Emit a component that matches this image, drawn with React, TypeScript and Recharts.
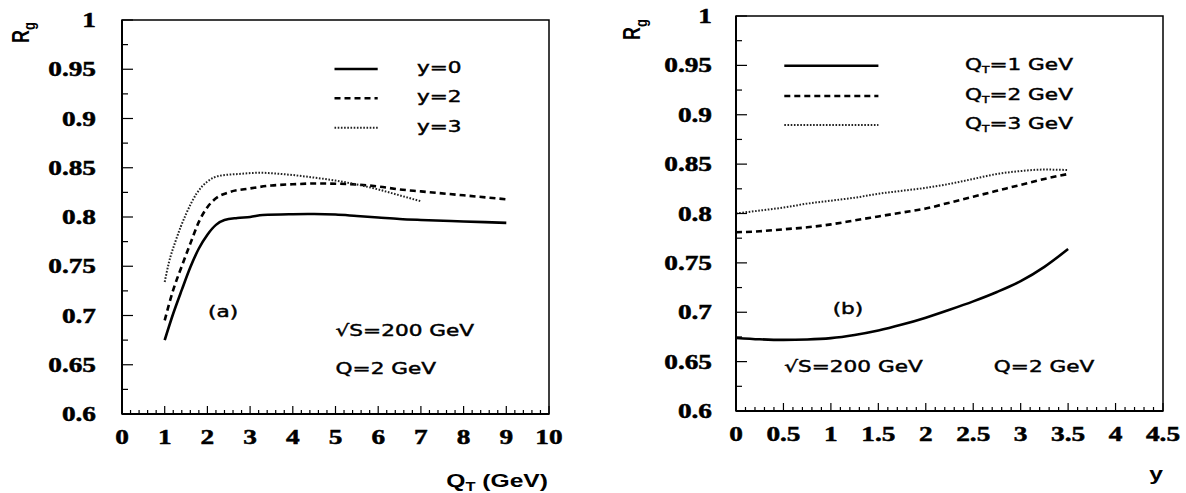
import React from 'react';
import { LineChart, Line, XAxis, YAxis, ReferenceArea } from 'recharts';

// ---------- Panel (a): R_g versus Q_T ----------
const qtY0 = [1, 1.2, 1.4, 1.6, 1.8, 2, 2.2, 2.4, 2.7, 3, 3.3, 4, 4.5, 5, 5.5, 6, 6.5, 7, 8, 9];
const rgY0 = [0.675, 0.702, 0.726, 0.749, 0.768, 0.782, 0.792, 0.797, 0.799, 0.8, 0.802, 0.8028, 0.803, 0.8025, 0.801, 0.7995, 0.798, 0.797, 0.7955, 0.794];
const qtY2 = [1, 1.2, 1.4, 1.6, 1.8, 2, 2.2, 2.5, 3, 3.5, 4, 4.5, 5, 5.5, 6, 6.5, 7, 8, 9];
const rgY2 = [0.695, 0.726, 0.75, 0.773, 0.795, 0.81, 0.819, 0.825, 0.829, 0.832, 0.8332, 0.834, 0.8338, 0.833, 0.831, 0.828, 0.826, 0.822, 0.818];
const qtY3 = [1, 1.1, 1.25, 1.5, 1.75, 2, 2.3, 2.75, 3.25, 3.5, 4, 4.5, 5, 5.5, 6, 6.5, 7];
const rgY3 = [0.734, 0.754, 0.775, 0.803, 0.824, 0.836, 0.842, 0.8437, 0.845, 0.8444, 0.8426, 0.84, 0.837, 0.833, 0.828, 0.822, 0.816];
const xTickLabelsA = ['0', '1', '2', '3', '4', '5', '6', '7', '8', '9', '10'];
const legendA = ['y=0', 'y=2', 'y=3'];

// ---------- Panel (b): R_g versus y ----------
const yRap = [0, 0.25, 0.5, 0.75, 1, 1.25, 1.5, 1.75, 2, 2.25, 2.5, 2.75, 3, 3.25, 3.5];
const rgQT1 = [0.674, 0.6726, 0.672, 0.6724, 0.6738, 0.677, 0.6815, 0.6875, 0.6945, 0.7025, 0.711, 0.7205, 0.7315, 0.746, 0.764];
const rgQT2 = [0.781, 0.782, 0.784, 0.786, 0.789, 0.793, 0.797, 0.801, 0.805, 0.811, 0.817, 0.823, 0.829, 0.835, 0.84];
const rgQT3 = [0.8, 0.803, 0.806, 0.81, 0.813, 0.816, 0.82, 0.823, 0.826, 0.83, 0.835, 0.84, 0.843, 0.8445, 0.844];
const xTickLabelsB = ['0', '0.5', '1', '1.5', '2', '2.5', '3', '3.5', '4', '4.5'];
const legendBqt = ['1', '2', '3'];

const yTickLabels = ['0.6', '0.65', '0.7', '0.75', '0.8', '0.85', '0.9', '0.95', '1'];

// ---------- helpers ----------
const SERIF = '"Liberation Serif", "DejaVu Serif", serif';
const SANS_B = '"Liberation Sans", Arial, sans-serif';
const ANN = '"DejaVu Sans", sans-serif';
const SX = 1.3;

const pts = (xs: number[], ys: number[]) => xs.map((x, i) => ({ x, v: ys[i] }));
const steps = (lo: number, hi: number, step: number) => {
  const n = Math.round((hi - lo) / step);
  return Array.from({ length: n + 1 }, (_, i) => +(lo + i * step).toFixed(4));
};

const seriesStyle = [
  { dash: undefined as string | undefined, w: 2.6, c: '#000' },
  { dash: '6 4', w: 2.6, c: '#000' },
  { dash: '1.6 1.6', w: 2, c: '#222' },
];

const tickTextStyle: React.CSSProperties = {
  fontFamily: SERIF,
  fontWeight: 700,
  fontSize: 21,
};

function makeXTick(labels: string[], every: number) {
  return (props: any) => {
    const { x, y, index } = props;
    const major = index % every === 0;
    return (
      <g>
        <line x1={x} x2={x} y1={y} y2={y - (major ? 8 : 4)} stroke="#000" strokeWidth={1.2} />
        {major && (
          <text
            transform={`translate(${x},${y + 30}) scale(${SX},1)`}
            textAnchor="middle"
            style={tickTextStyle}
            fill="#000"
            stroke="#000"
            strokeWidth={0.5}
          >
            {labels[index / every]}
          </text>
        )}
      </g>
    );
  };
}

function makeYTick(gap: number) {
  return (props: any) => {
    const { x, y, index } = props;
    const major = index % 2 === 0;
    return (
      <g>
        <line x1={x} x2={x + (major ? 11 : 6)} y1={y} y2={y} stroke="#000" strokeWidth={1.2} />
        {major && (
          <text
            transform={`translate(${x - gap},${y + 7}) scale(${SX},1)`}
            textAnchor="end"
            style={tickTextStyle}
            fill="#000"
            stroke="#000"
            strokeWidth={0.5}
          >
            {yTickLabels[index / 2]}
          </text>
        )}
      </g>
    );
  };
}

const yTicks = steps(0.6, 1, 0.025);

type PanelProps = {
  left: number;
  width: number;
  margin: { top: number; right: number; bottom: number; left: number };
  xDomain: [number, number];
  xTicks: number[];
  xLabels: string[];
  series: { x: number; v: number }[][];
  yGap: number;
};

function Panel({ left, width, margin, xDomain, xTicks, xLabels, series, yGap }: PanelProps) {
  return (
    <div style={{ position: 'absolute', left, top: 0 }}>
      <LineChart width={width} height={493} margin={margin} style={{ overflow: 'visible' }}>
        <XAxis
          type="number"
          dataKey="x"
          domain={xDomain}
          ticks={xTicks}
          interval={0}
          tickSize={0}
          tickMargin={0}
          height={40}
          axisLine={{ stroke: '#000', strokeWidth: 2 }}
          tickLine={false}
          tick={makeXTick(xLabels, 5)}
          allowDataOverflow
        />
        <YAxis
          type="number"
          domain={[0.6, 1]}
          ticks={yTicks}
          interval={0}
          tickSize={0}
          tickMargin={0}
          width={60}
          axisLine={{ stroke: '#000', strokeWidth: 2 }}
          tickLine={false}
          tick={makeYTick(yGap)}
          allowDataOverflow
        />
        <ReferenceArea
          x1={xDomain[0]}
          x2={xDomain[1]}
          y1={0.6}
          y2={1}
          fill="none"
          fillOpacity={0}
          stroke="#000"
          strokeWidth={1.5}
        />
        {series.map((d, i) => (
          <Line
            key={i}
            data={d}
            dataKey="v"
            type="monotone"
            stroke={seriesStyle[i].c}
            strokeWidth={seriesStyle[i].w}
            strokeDasharray={seriesStyle[i].dash}
            dot={false}
            activeDot={false}
            isAnimationActive={false}
          />
        ))}
      </LineChart>
    </div>
  );
}

function WText({ x, y, children, size = 16, anchor = 'start', sx = 1.35 }: any) {
  return (
    <text
      transform={`translate(${x},${y}) scale(${sx},1)`}
      textAnchor={anchor}
      style={{ fontFamily: ANN, fontSize: size }}
      fill="#000"
      stroke="#000"
      strokeWidth={0.45}
    >
      {children}
    </text>
  );
}

function Overlay() {
  const legA = [69, 98.3, 127.7];
  const legB = [65.7, 96, 125];
  const titleStyle: React.CSSProperties = { fontFamily: SANS_B, fontWeight: 700, fontSize: 18 };
  return (
    <svg
      width={1186}
      height={493}
      style={{ position: 'absolute', left: 0, top: 0, pointerEvents: 'none' }}
    >
      {/* Axis titles */}
      <text transform={`translate(28.7,43) scale(${SX},1) rotate(-90)`} style={titleStyle} fill="#000">
        R<tspan dy={5} fontSize={13}>g</tspan>
      </text>
      <text transform={`translate(640,40) scale(${SX},1) rotate(-90)`} style={titleStyle} fill="#000">
        R<tspan dy={5} fontSize={13}>g</tspan>
      </text>
      <text transform={`translate(548,487) scale(1.37,1)`} textAnchor="end" style={titleStyle} fill="#000">
        Q<tspan dy={4} fontSize={12}>T</tspan>
        <tspan dy={-4}> (GeV)</tspan>
      </text>
      <text
        transform={`translate(1156,480) scale(${SX},1)`}
        textAnchor="middle"
        style={{ ...titleStyle, fontSize: 19 }}
        fill="#000"
      >
        y
      </text>

      {/* Legend (a) */}
      {legendA.map((lab, i) => (
        <g key={lab}>
          <line
            x1={334.5}
            x2={377.7}
            y1={legA[i]}
            y2={legA[i]}
            stroke={seriesStyle[i].c}
            strokeWidth={seriesStyle[i].w}
            strokeDasharray={seriesStyle[i].dash}
          />
          <WText x={417} y={legA[i] + 4}>{lab}</WText>
        </g>
      ))}
      {/* Legend (b) */}
      {legendBqt.map((q, i) => (
        <g key={q}>
          <line
            x1={784.3}
            x2={878.4}
            y1={legB[i]}
            y2={legB[i]}
            stroke={seriesStyle[i].c}
            strokeWidth={seriesStyle[i].w}
            strokeDasharray={seriesStyle[i].dash}
          />
          <WText x={965} y={legB[i] + 4}>
            Q<tspan dy={3} fontSize={9}>T</tspan>
            <tspan dy={-3}>{`=${q} GeV`}</tspan>
          </WText>
        </g>
      ))}

      {/* Annotations (a) */}
      <WText x={208} y={317}>(a)</WText>
      <WText x={335.6} y={336}>√S=200 GeV</WText>
      <WText x={335.6} y={374}>Q=2 GeV</WText>
      {/* Annotations (b) */}
      <WText x={832.7} y={314}>(b)</WText>
      <WText x={784.3} y={372}>√S=200 GeV</WText>
      <WText x={993.8} y={372}>Q=2 GeV</WText>
    </svg>
  );
}

export default function App() {
  const seriesA = [pts(qtY0, rgY0), pts(qtY2, rgY2), pts(qtY3, rgY3)];
  const seriesB = [pts(yRap, rgQT1), pts(yRap, rgQT2), pts(yRap, rgQT3)];
  return (
    <div style={{ position: 'absolute', left: 0, top: 0, width: 1186, height: 493, background: '#fff' }}>
      <Panel
        left={0}
        width={580}
        margin={{ top: 20, right: 31, bottom: 39, left: 62 }}
        xDomain={[0, 10]}
        xTicks={steps(0, 10, 0.2)}
        xLabels={xTickLabelsA}
        series={seriesA}
        yGap={26}
      />
      <Panel
        left={580}
        width={606}
        margin={{ top: 16, right: 23, bottom: 42, left: 96 }}
        xDomain={[0, 4.5]}
        xTicks={steps(0, 4.5, 0.1)}
        xLabels={xTickLabelsB}
        series={seriesB}
        yGap={24}
      />
      <Overlay />
    </div>
  );
}
